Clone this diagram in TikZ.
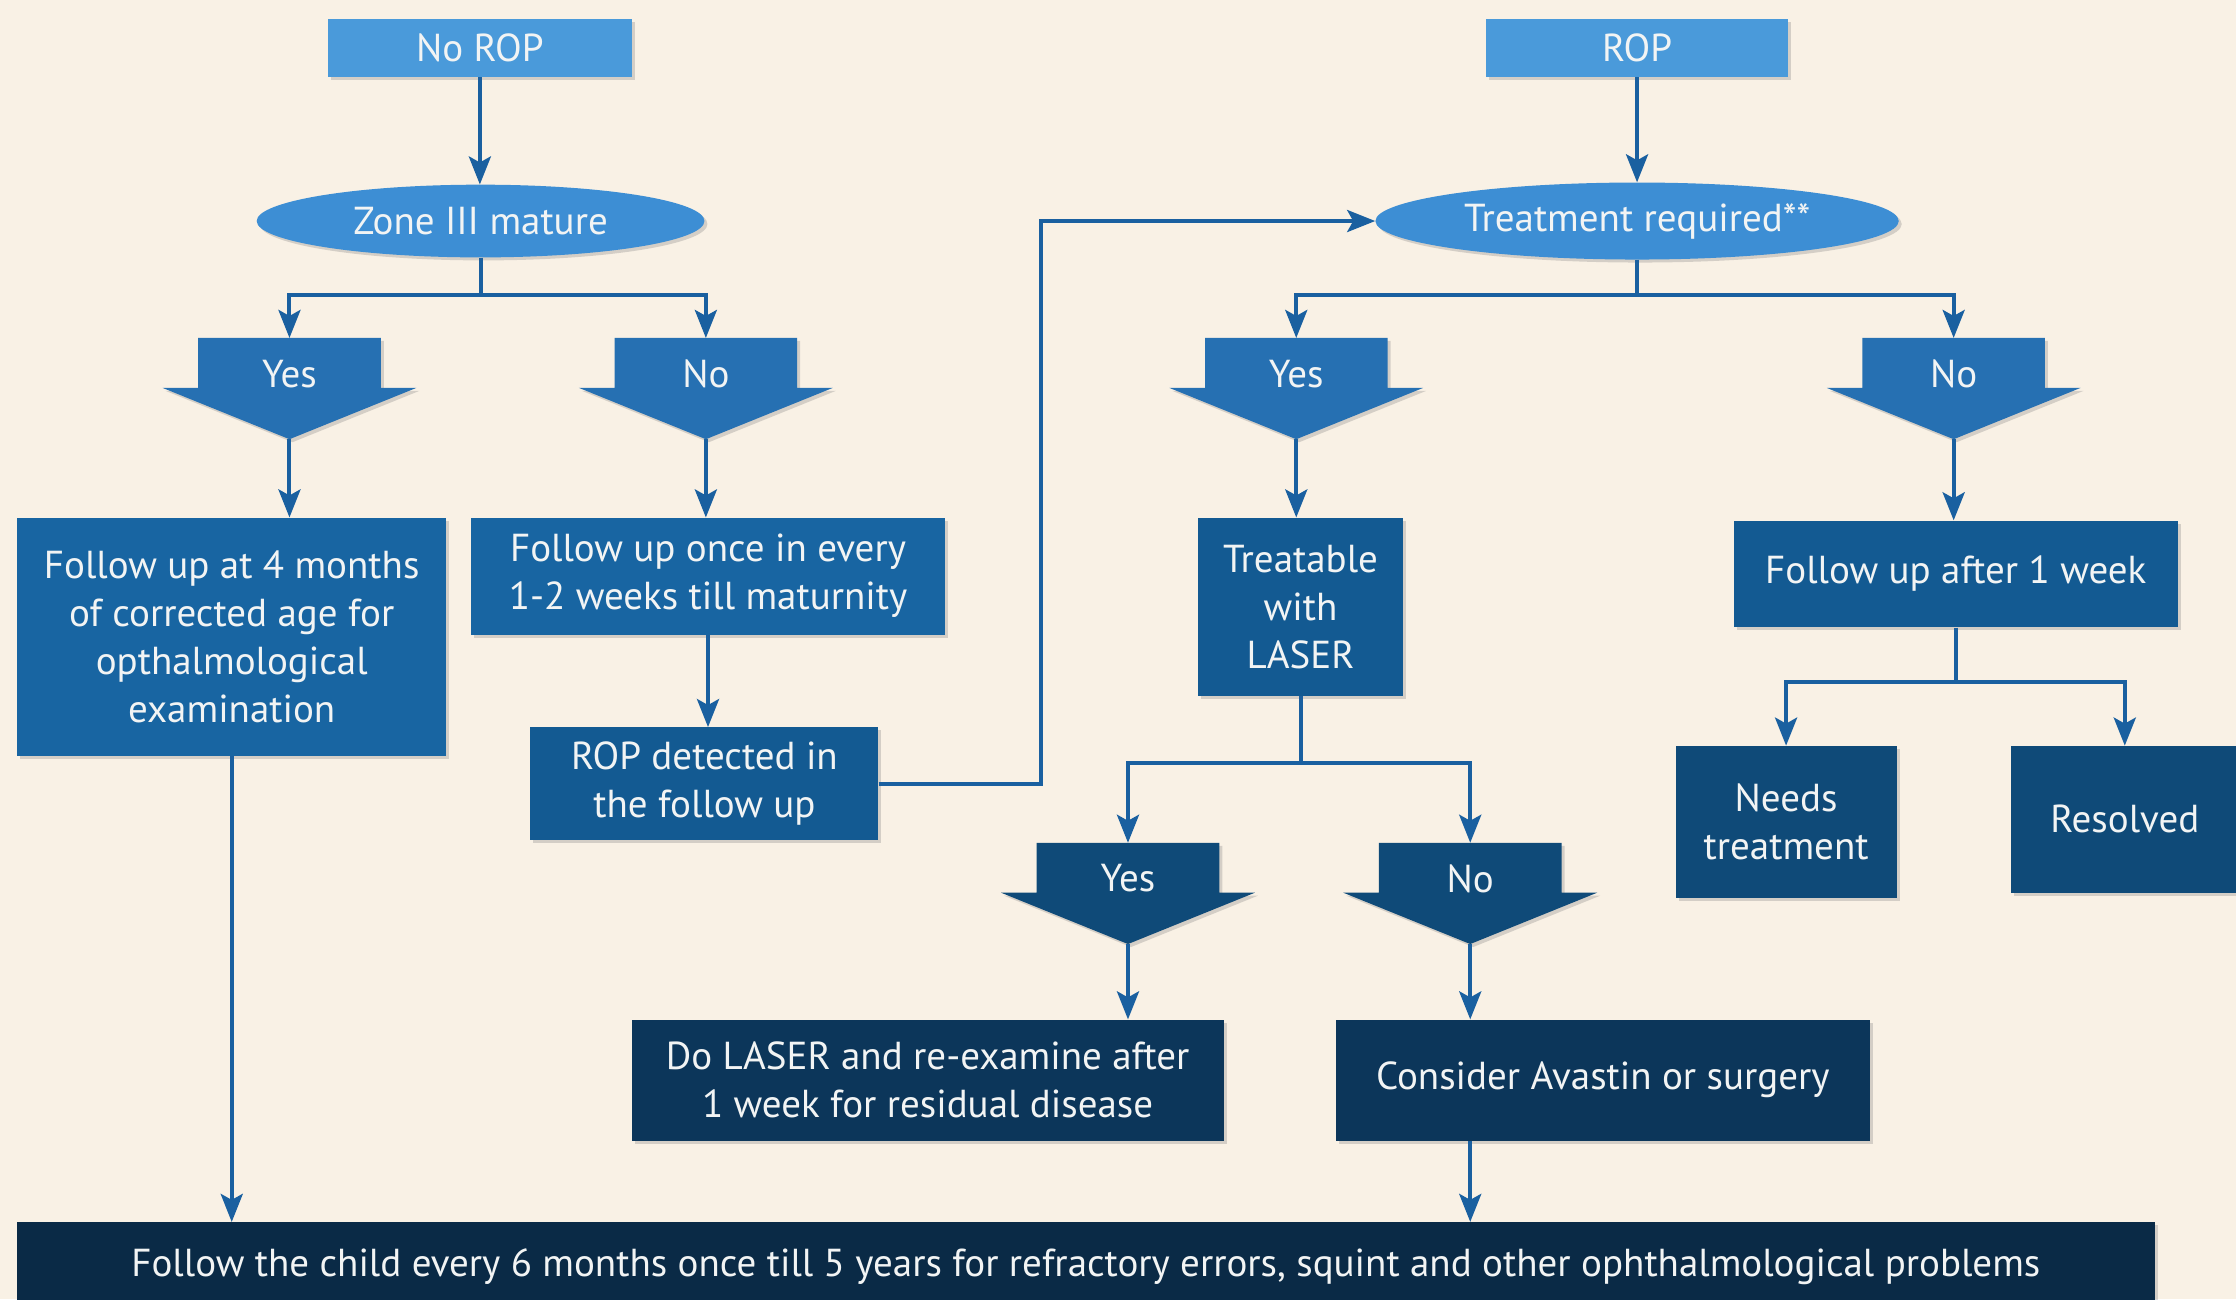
\documentclass[tikz,border=0pt]{standalone}
\usepackage{fontspec}
\setmainfont{PT Sans}
\usetikzlibrary{shapes.geometric,arrows.meta,shadows}
\definecolor{bg}{HTML}{F9F1E5}
\definecolor{cA}{HTML}{4A9ADA}
\definecolor{cB}{HTML}{3D8ED4}
\definecolor{cC}{HTML}{2670B2}
\definecolor{cD}{HTML}{1865A2}
\definecolor{cE}{HTML}{135A92}
\definecolor{cF}{HTML}{0F4A78}
\definecolor{cG}{HTML}{0C365A}
\definecolor{cH}{HTML}{0A2A46}
\definecolor{lc}{HTML}{1A60A0}
\definecolor{txt}{HTML}{F2F4F4}
% \mybox{name}{x1}{y1}{x2}{y2}{fill}{text}
\newcommand\mybox[7]{%
  \node[box, fill=#6, minimum width={(#4-#2)*1.426pt}, minimum height={(#5-#3)*1.426pt}]
    (#1) at ({(#2+#4)/2},{(#3+#5)/2}) {#7};}
\begin{document}
\begin{tikzpicture}[x=1.426pt,y=-1.426pt,
  every node/.style={font=\fontsize{39}{48}\selectfont, text=txt, align=center},
  shad/.style={drop shadow={opacity=0.3,shadow xshift=3pt,shadow yshift=-3pt}},
  box/.style={rectangle, inner sep=0pt, draw=none, shad},
  ell/.style={ellipse, inner sep=0pt, draw=none, shad},
  conn/.style={draw=lc, line width=4pt},
  arr/.style={conn, -{Stealth[length=28pt,width=22pt,inset=6pt]}},
  darrow/.pic={
    \fill[pic actions, shad] (-64,0) -- (64,0) -- (64,35) -- (89,35) -- (0,71) -- (-89,35) -- (-64,35) -- cycle;
    \coordinate (-top) at (0,0);
    \coordinate (-tip) at (0,71);
    \node (-lbl) at (0,25) {#1};
  }
]
\fill[bg] (0,0) rectangle (1568,911);
\useasboundingbox (0,0) rectangle (1568,911);

% top level
\mybox{norop}{230}{13}{443}{54}{cA}{No ROP}
\mybox{rop}{1042}{13}{1254}{54}{cA}{ROP}
\node[ell, fill=cB, minimum width={314*1.426pt}, minimum height={51*1.426pt}] (zone) at (337,155) {Zone III mature};
\node[ell, fill=cB, minimum width={367*1.426pt}, minimum height={54*1.426pt}] (treat) at (1148,155) {Treatment required**};

% first decision arrows
\pic[fill=cC] (yes1) at (203,237) {darrow=Yes};
\pic[fill=cC] (no1) at (495,237) {darrow=No};
\pic[fill=cC] (yes2) at (909,237) {darrow=Yes};
\pic[fill=cC] (no2) at (1370,237) {darrow=No};

% second level boxes
\mybox{fu4}{12}{363}{313}{530}{cD}{Follow up at 4 months\\of corrected age for\\opthalmological\\examination}
\mybox{fuw}{330}{363}{663}{445}{cD}{Follow up once in every\\1-2 weeks till maturnity}
\mybox{ropd}{372}{510}{616}{589}{cE}{ROP detected in\\the follow up}
\mybox{tl}{840}{363}{984}{488}{cE}{Treatable\\with\\LASER}
\mybox{fu1}{1216}{365}{1527}{440}{cE}{Follow up after 1 week}
\mybox{nt}{1175}{523}{1330}{630}{cF}{Needs\\treatment}
\mybox{res}{1410}{523}{1570}{626}{cF}{Resolved}

% third decision arrows
\pic[fill=cF] (yes3) at (791,591) {darrow=Yes};
\pic[fill=cF] (no3) at (1031,591) {darrow=No};

\mybox{dol}{443}{715}{858}{800}{cG}{Do LASER and re-examine after\\1 week for residual disease}
\mybox{cas}{937}{715}{1311}{800}{cG}{Consider Avastin or surgery}
\mybox{bar}{12}{857}{1511}{919}{cH}{Follow the child every 6 months once till 5 years for refractory errors, squint and other ophthalmological problems}

% branch points
\coordinate (zb) at (zone.south |- 0,207);
\coordinate (tb) at (treat.south |- 0,207);
\coordinate (lb) at (tl.south |- 0,535);
\coordinate (fb) at (fu1.south |- 0,478);
\coordinate (rj) at (730,548);

% connectors
\draw[arr] (norop.south) -- (norop.south |- zone.north);
\draw[arr] (rop.south) -- (rop.south |- treat.north);
\draw[conn] (zone.south) -- (zb);
\draw[arr] (zb) -| (yes1-top);
\draw[arr] (zb) -| (no1-top);
\draw[conn] (treat.south) -- (tb);
\draw[arr] (tb) -| (yes2-top);
\draw[arr] (tb) -| (no2-top);
\draw[arr] (yes1-tip) -- (yes1-tip |- fu4.north);
\draw[arr] (no1-tip) -- (no1-tip |- fuw.north);
\draw[arr] (fuw.south) -- (fuw.south |- ropd.north);
\draw[arr] (ropd.east) -- (ropd.east -| rj) |- (treat.west);
\draw[arr] (yes2-tip) -- (yes2-tip |- tl.north);
\draw[arr] (no2-tip) -- (no2-tip |- fu1.north);
\draw[conn] (tl.south) -- (lb);
\draw[arr] (lb) -| (yes3-top);
\draw[arr] (lb) -| (no3-top);
\draw[conn] (fu1.south) -- (fb);
\draw[arr] (fb) -| (nt.north);
\draw[arr] (fb) -| (res.north);
\draw[arr] (yes3-tip) -- (yes3-tip |- dol.north);
\draw[arr] (no3-tip) -- (no3-tip |- cas.north);
\draw[arr] (no3-tip |- cas.south) -- (no3-tip |- bar.north);
\draw[arr] (fu4.south) -- (fu4.south |- bar.north);
\end{tikzpicture}
\end{document}
